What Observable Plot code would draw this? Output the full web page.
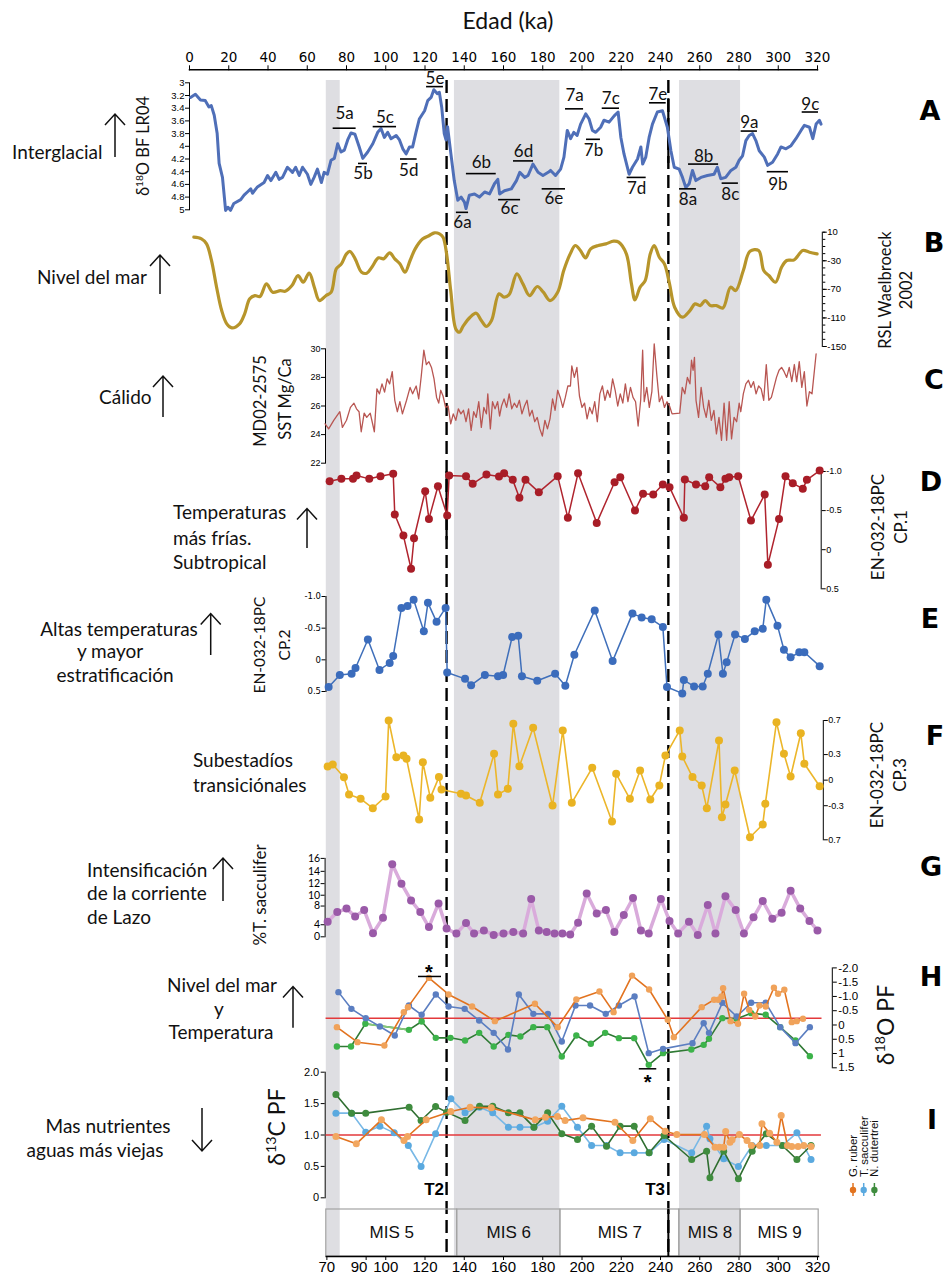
<!DOCTYPE html>
<html><head><meta charset="utf-8">
<script src="https://cdn.jsdelivr.net/npm/d3@7"></script>
<script src="https://cdn.jsdelivr.net/npm/@observablehq/plot@0.6"></script>
<style>
body{margin:0;background:#fff;}
#chart{position:relative;width:948px;height:1275px;overflow:hidden;background:#fff;}
</style></head><body><div id="chart"></div>
<script>
// ---------------- DATA ----------------
const topTicks = d3.range(0, 321, 20);
const bottomTicks = [70, 90, 100, 120, 140, 160, 180, 200, 220, 240, 260, 280, 300, 320];
const glacialBands = [[69.7, 76.8], [135, 188.7], [249.7, 280.8]];
const terminations = [{name: "T2", age: 131}, {name: "T3", age: 244}];
const misStages = [
  {name: "MIS 5", start: 69.7, end: 136.4}, {name: "MIS 6", start: 136.4, end: 189},
  {name: "MIS 7", start: 189, end: 249.6}, {name: "MIS 8", start: 249.6, end: 280.8},
  {name: "MIS 9", start: 280.8, end: 320.6}];

// A: LR04 benthic d18O [age ka, permil]
const lr04 = [[0.5,3.23],[3,3.18],[5.6,3.27],[8,3.28],[9.9,3.38],[11.1,3.36],[12.6,3.51],[14.1,3.80],[15.1,4.27],[16.8,4.49],[18.4,5.01],[19.6,4.96],[20.9,5.01],[22.6,4.90],[26.1,4.84],[27.8,4.77],[29.5,4.72],[31.2,4.67],[32.1,4.74],[34.6,4.64],[38,4.57],[39.8,4.46],[41.5,4.54],[44,4.41],[45.7,4.52],[47.4,4.49],[49.9,4.33],[52.5,4.41],[54.1,4.33],[55.9,4.46],[57.6,4.33],[60.1,4.44],[61.8,4.60],[63.5,4.49],[65.2,4.36],[67.2,4.57],[68.6,4.41],[70.3,4.44],[72.1,4.22],[73.8,4.19],[75.5,3.96],[77.2,4.09],[78.9,4.06],[80.6,3.90],[82.3,3.79],[84.3,3.81],[86.5,4.01],[88.3,4.19],[90.8,4.09],[93.4,3.96],[95.9,3.78],[97.6,3.72],[99.3,3.86],[101,3.78],[102.7,3.88],[105.3,3.83],[107,3.90],[108.7,4.04],[110.4,4.12],[112.1,4.01],[113.7,4.01],[115.4,3.78],[117.1,3.57],[119.8,3.44],[121.4,3.28],[123.1,3.23],[124.5,3.11],[126.2,3.17],[127.3,3.15],[128.5,3.38],[129.8,3.80],[130.7,3.90],[131.5,3.69],[133.2,4.12],[134.9,4.54],[136.7,4.85],[138.4,4.80],[140.1,4.88],[140.9,4.98],[142.6,4.77],[145.2,4.75],[147.7,4.80],[150.4,4.72],[152.9,4.75],[155.4,4.59],[157.1,4.52],[158,4.75],[160.5,4.70],[164,4.67],[166.6,4.54],[168.3,4.41],[170.8,4.49],[172.5,4.46],[175,4.28],[177.6,4.41],[180.1,4.46],[182.8,4.41],[184,4.38],[186.5,4.46],[189.1,4.36],[190.8,4.17],[192.5,3.75],[194.2,3.88],[195.8,3.78],[197.5,3.83],[199.3,3.65],[201.9,3.49],[203.6,3.57],[205.3,3.75],[207,3.78],[209.5,3.70],[211.2,3.59],[213.8,3.62],[216.4,3.52],[218.4,3.46],[219.8,3.86],[221.4,4.12],[224,4.44],[225.7,4.33],[228.3,4.20],[230,4.01],[230.9,4.28],[232.5,4.17],[234.2,3.86],[235.9,3.65],[238.4,3.46],[241,3.44],[243.5,3.70],[245.3,4.07],[247,4.33],[249.5,4.36],[251.2,4.49],[252.9,4.65],[254.6,4.59],[256.3,4.38],[258,4.54],[260.6,4.49],[263.9,4.46],[267.3,4.44],[269,4.33],[270.7,4.51],[273.2,4.49],[275.9,4.38],[278.4,4.33],[280.1,4.22],[281.8,4.15],[283.5,3.91],[285.2,3.83],[286.9,3.80],[288.6,3.91],[290.3,4.07],[292.9,4.17],[294.6,4.30],[297.1,4.25],[299.7,4.12],[301.4,4.01],[303.9,4.04],[306.5,3.99],[309,3.88],[311.6,3.75],[313.3,3.67],[315.9,3.70],[317.6,3.88],[319.3,3.65],[321,3.59],[321.8,3.65]];
const aTicks = d3.range(3, 5.001, 0.2);
// substage labels: name, bar start/end (ka), bar level and label level (permil)
const substages = [
  {name:"5a",from:73.2,to:84.9,bar:3.715,label:3.48},{name:"5b",from:86.1,to:90.7,bar:4.27,label:4.43},
  {name:"5c",from:93.6,to:105.5,bar:3.69,label:3.55},{name:"5d",from:107.5,to:116,bar:4.20,label:4.38},
  {name:"5e",from:120.8,to:129.4,bar:3.06,label:2.93},{name:"6a",from:136,to:142.2,bar:5.04,label:5.2},
  {name:"6b",from:141.1,to:156.3,bar:4.43,label:4.26},{name:"6c",from:157.5,to:168.7,bar:4.84,label:4.98},
  {name:"6d",from:165.1,to:175.3,bar:4.23,label:4.09},{name:"6e",from:179.7,to:191.6,bar:4.67,label:4.83},
  {name:"7a",from:191.6,to:200.8,bar:3.41,label:3.2},{name:"7b",from:202.3,to:209.4,bar:3.89,label:4.07},
  {name:"7c",from:210.3,to:219.1,bar:3.40,label:3.25},{name:"7d",from:223,to:232.7,bar:4.49,label:4.67},
  {name:"7e",from:234.4,to:242.9,bar:3.315,label:3.19},{name:"8a",from:249.7,to:258.3,bar:4.67,label:4.84},
  {name:"8b",from:254.3,to:269.6,bar:4.28,label:4.16},{name:"8c",from:271.4,to:279.7,bar:4.58,label:4.76},
  {name:"9a",from:281.1,to:289.4,bar:3.76,label:3.62},{name:"9b",from:294.4,to:305.2,bar:4.40,label:4.60},
  {name:"9c",from:312.2,to:320.5,bar:3.46,label:3.35}];

// B: relative sea level (m)
const rsl = [[2.2,3],[6.1,0.7],[8.7,-6.3],[11.2,-29.6],[13.8,-67],[16.4,-99.7],[19,-118.3],[21.6,-124],[25.5,-118.3],[28.1,-104.3],[30.7,-83.3],[33.3,-78.7],[35.9,-80],[39.2,-62.3],[42.4,-74],[46.3,-71.7],[48.8,-72.6],[52.2,-64.7],[55.3,-50.6],[57.9,-60],[61,-47.4],[63.6,-67],[66.2,-85.7],[69.6,-78.7],[72.2,-74],[74.8,-41.3],[77.4,-34.3],[80,-20.3],[81.8,-17],[84.4,-27.3],[87.7,-46],[90.3,-47.4],[92.9,-39],[96.3,-25.9],[98.9,-27.3],[102,-18.9],[104.6,-27.3],[107.2,-34.3],[109.8,-46],[112.4,-29.6],[115,-13.3],[118.9,0.7],[122.2,5.4],[124.8,9.1],[127.4,7.7],[129.2,3],[131,-20.3],[133.1,-71.7],[135.7,-125.4],[137.5,-130],[139.6,-120.7],[143,-109],[146.1,-103.4],[148.7,-113.7],[151.3,-122],[153.9,-113.7],[157.7,-76.3],[160.3,-81],[162.9,-77.3],[166.8,-48.3],[169.9,-62.3],[173.3,-78.7],[177.2,-66],[180.3,-74],[183.7,-85.7],[187.6,-74],[190.7,-43.6],[194,-20.3],[196.6,-8.6],[199.2,-15.6],[201.8,-25.9],[204.4,-13.3],[208.3,-8.6],[212.2,-6.3],[216.1,-2.6],[218.7,-4],[222.6,-20.3],[225.2,-62.3],[227,-84.7],[229.6,-67],[232.2,-57.7],[234.8,-20.3],[236.8,-8.6],[239.4,-25],[242,-34.3],[244.6,-62.3],[247.2,-95],[251.1,-109],[255,-99.7],[257.6,-90.3],[260.2,-92.7],[262.8,-85.7],[265.4,-92.7],[268.5,-92.7],[271.8,-96],[275.7,-67],[278.3,-71.7],[282.2,-43.6],[285.6,-16.6],[290,-15.6],[292.6,-43.6],[295.2,-50.6],[298.6,-60],[301.7,-39],[304.3,-29.6],[308.1,-28.7],[312.5,-15.6],[315.9,-18],[319.8,-20.3]];
const rslTicks = d3.range(-150, 11, 10);
const rslLabels = [10, -30, -70, -110, -150];

// C: MD02-2575 Mg/Ca SST (C)
const sst = [[69.1,24.75],[70.9,24.4],[73.5,25.0],[76.6,25.6],[77.9,24.5],[80,25.0],[82,25.9],[83.8,26.2],[85.1,25.8],[86.4,25.6],[87.5,24.2],[89,25.5],[90.3,25.2],[92.1,25.5],[94.2,24.2],[95.5,27.2],[96.8,26.85],[98.1,27.55],[99.4,26.97],[100.7,27.9],[102,27.55],[103.3,28.4],[104.6,26.4],[105.9,25.6],[107.2,26.3],[108.5,25.45],[110.6,26.4],[112.4,27.3],[113.7,26.85],[115.5,27.4],[116.8,26.5],[118.1,28.1],[119.4,29.9],[120.7,28.9],[122,29.1],[123.3,28.7],[124.6,27.9],[125.9,26.6],[127,26.2],[128,27.1],[129.2,26.7],[130.5,25.9],[131.8,26.0],[133.1,24.75],[134.4,25.45],[135.7,25.0],[137,25.8],[138.3,25.45],[139.6,25.7],[140.9,24.9],[142.2,25.8],[143.5,24.3],[144.8,25.6],[146.1,25.2],[147.4,26.3],[148.7,24.5],[150,25.9],[151.3,25.45],[152,26.85],[153.3,24.4],[154.4,26.3],[155.7,25.8],[157,26.3],[158,25.3],[159,26.0],[160.3,26.5],[161.6,25.9],[162.9,26.85],[164.2,25.8],[165.5,26.2],[166.8,25.9],[168.1,26.4],[169.4,25.45],[170.7,26.0],[172,26.4],[173.3,25.3],[174.6,25.7],[175.9,24.9],[177.2,25.2],[178.5,24.4],[179.8,23.9],[181.1,25.0],[182.4,24.4],[183.7,25.1],[185,26.5],[186.3,25.7],[187.6,27.1],[188.9,26.6],[190.2,25.9],[191.5,26.6],[192.8,27.4],[194.1,27.4],[194.8,28.8],[196.1,28.0],[197.4,28.7],[198.7,26.7],[200,25.9],[201.3,26.2],[202.6,25.1],[203.9,25.9],[205.2,25.45],[206.5,26.3],[207.8,24.9],[209.1,26.85],[210.4,27.4],[211.7,26.4],[213,27.1],[214.3,26.6],[215.6,27.9],[216.9,27.1],[218.2,26.0],[219.5,26.85],[220.8,26.2],[222.1,27.55],[223.4,26.3],[224.7,27.3],[226,26.6],[227.3,26.3],[228.6,24.6],[229.9,26.4],[230.9,29.9],[231.7,26.3],[233,27.3],[234.3,25.9],[235.6,27.0],[236.8,30.35],[238.1,28.2],[239.4,26.3],[240.7,26.7],[242,25.9],[243.3,26.3],[244.6,26.0],[245.9,25.45],[249.8,25.5],[251.1,27.3],[252.4,26.85],[253.7,28.0],[255,27.55],[255.8,29.2],[256.6,28.5],[257.3,29.4],[258.1,26.4],[259.4,25.2],[260.7,27.3],[262,25.9],[263.3,25.2],[264.6,26.4],[265.9,25.0],[267.2,25.7],[268.5,24.05],[269.8,25.2],[271.1,23.6],[272.4,26.2],[273.7,23.6],[275,26.3],[276.2,23.7],[277.5,25.2],[278.8,24.9],[280.1,26.2],[280.9,25.6],[282.2,26.85],[283.5,27.55],[284.8,27.8],[286.1,27.3],[287.4,27.7],[288.7,26.85],[290,27.4],[291.3,27.2],[292.6,26.4],[293.9,28.9],[295.2,26.4],[296.5,26.6],[297.8,27.3],[299.1,28.0],[300.4,28.5],[301.7,28.7],[303,28.4],[304.3,28.0],[305.6,28.7],[306.9,27.7],[308.2,28.9],[309.4,27.7],[310.7,29.1],[312,27.3],[313.3,28.4],[314.6,26.0],[315.9,27.0],[317.2,26.85],[319.3,29.65]];
const sstTicks = [22, 24, 26, 28, 30];

// D, E, F: EN-032-18PC principal components
const cp1 = [[71.4,-0.876],[77.4,-0.906],[83.3,-0.906],[85.1,-0.949],[91.6,-0.906],[97.3,-0.94],[103.8,-0.97],[104.6,-0.45],[109,-0.18],[112.9,0.244],[114.4,-0.147],[120.1,-0.748],[122,-0.394],[126.6,-0.812],[131.3,-0.437],[132.3,-0.949],[140.9,-0.94],[144.3,-0.842],[151.3,-0.961],[157.7,-0.936],[160.3,-0.979],[164.7,-0.893],[168.1,-0.663],[171.2,-0.893],[178,-0.736],[187.6,-0.94],[192.8,-0.407],[198,-0.979],[207.5,-0.343],[216.6,-0.863],[219.5,-0.927],[227,-0.501],[231.1,-0.714],[236.3,-0.706],[241.2,-0.834],[244.6,-0.8],[251.9,-0.407],[252.4,-0.898],[258.1,-0.834],[262.8,-0.812],[264.8,-0.927],[270.5,-0.8],[273.1,-0.906],[275,-0.927],[279.6,-0.94],[286.1,-0.373],[293.1,-0.706],[294.7,0.193],[300.4,-0.394],[303.7,-0.94],[307.4,-0.851],[312.5,-0.778],[314.6,-0.893],[321.1,-1.012]];
const cp2 = [[70.9,0.43],[76.6,0.24],[82.6,0.22],[84.6,0.13],[90.9,-0.32],[96.8,0.16],[102,0.05],[103.8,-0.06],[108,-0.82],[111.1,-0.85],[114.2,-0.95],[119.4,-0.45],[121.5,-0.9],[125.9,-0.6],[130.5,-0.82],[131.3,0.2],[140.4,0.3],[143.5,0.4],[150.5,0.24],[157.2,0.26],[159.8,0.24],[164.4,-0.36],[167.5,-0.38],[169.4,0.26],[177.2,0.33],[186.3,0.22],[191.5,0.41],[196.1,-0.08],[206.5,-0.78],[215.6,0.02],[225.7,-0.73],[230.4,-0.67],[235.5,-0.64],[241.2,-0.52],[243.3,0.43],[251.1,0.53],[251.9,0.32],[257.1,0.42],[261.5,0.42],[264.1,0.22],[269.5,-0.4],[271.8,0.22],[273.7,0.04],[278,-0.4],[283,-0.33],[288,-0.45],[292.1,-0.49],[293.9,-0.95],[299.6,-0.54],[302.9,-0.16],[306.3,-0.04],[310.7,-0.12],[313.3,-0.12],[321.1,0.1]];
const cp3 = [[70.4,0.16],[73,0.184],[78.7,0.035],[81.3,-0.169],[87.2,-0.219],[93.4,-0.329],[99.9,-0.192],[101.5,0.7],[105.4,0.27],[109,0.289],[110.6,0.25],[117,-0.462],[118.9,0.21],[122.7,-0.208],[127.1,0.036],[128.4,-0.11],[138.3,-0.16],[140.9,-0.18],[147.9,-0.266],[155.2,0.309],[157.2,-0.169],[162.2,-0.102],[165,0.661],[168.1,0.164],[175.1,0.614],[185,-0.298],[190.2,0.583],[194.8,-0.266],[205.2,0.145],[215.3,-0.485],[217.4,0.074],[224.4,-0.219],[229.6,0.113],[234.8,-0.227],[239.4,-0.063],[242.5,0.289],[249.8,0.583],[251.1,0.277],[256.3,0.036],[261,-0.063],[263.6,-0.329],[269.8,0.465],[271.3,-0.435],[273.1,-0.286],[277.8,0.113],[285.6,-0.67],[292.1,-0.521],[293.4,-0.278],[299.1,0.68],[302.9,0.309],[306.3,0.043],[311.5,0.55],[313.3,0.192],[321.1,-0.071]];
const cpTicks = [-1, -0.5, 0, 0.5];
const cp3Ticks = [0.7, 0.3, 0, -0.3, -0.7];

// G: % T. sacculifer
const sacc = [[70.4,4.7],[75.3,6.8],[80,7.5],[84.4,5.9],[89,7.2],[93.5,1.6],[98.6,5.6],[103.3,15.1],[108,12],[112.9,9.05],[117.6,6.8],[122,3.4],[126.9,8.5],[131,3],[136,1.5],[140.9,4.4],[145,1.5],[150,2.5],[155,1],[160,1.5],[165,2],[170,1.5],[174.1,9.3],[178,2.5],[182,2],[186,1.5],[190,1.5],[194,1.2],[198,4.5],[202.4,10.3],[207.5,6.5],[212.2,7.2],[216.5,2],[221.3,6.2],[226,9.5],[230,2.5],[234,1.5],[240.2,9.3],[244.6,4.9],[249,1.5],[254.5,4.7],[259,1],[264.1,8.2],[268,1.5],[273.1,9.8],[278.3,7.2],[282.5,1.5],[287.4,5.7],[292.1,8.95],[297,5.4],[301.7,6.65],[306.3,10.8],[311.2,7.5],[315.9,4.9],[320,2.5]];
const saccTicks = [0, 4, 8, 10, 12, 14, 16];

// H: planktonic d18O (permil)
const d18O_sacculifer = [[75.9,-1.151],[82.5,-0.566],[89.8,-0.24],[97,0.053],[104.6,0.368],[111.8,-0.683],[118.3,-0.356],[125.5,-1.069],[132,-0.648],[140.2,-0.566],[147.6,-0.158],[155,0.275],[162.3,0.859],[167.8,-1.069],[175.2,-0.391],[182.6,-0.391],[189.7,0.578],[196.7,-0.683],[204.1,-0.683],[212.1,-0.391],[218.8,-0.683],[226.8,-0.999],[234,0.987],[241.3,0.836],[256.3,0.637],[262,-0.064],[264.7,0.275],[271.5,-0.777],[278.8,-0.298],[286.2,-0.777],[293.6,-0.777],[301,0.076],[308.8,0.637],[316.1,0.076]];
const d18O_ruber = [[75.1,0.076],[85.6,0.602],[99.3,0.719],[109.2,-0.45],[111.3,-0.625],[122,-1.65],[132,-1.069],[144,-0.648],[155.6,-0.134],[176,-0.742],[187.6,0.076],[197.1,-0.894],[208.9,-1.174],[216.1,-0.45],[225.5,-1.73],[234.2,-1.244],[243.7,-0.181],[246.8,0.427],[261,-0.625],[267.3,-0.882],[269.4,-0.882],[271.1,-0.999],[271.9,-1.29],[275.7,-0.134],[279.5,-0.041],[282.6,-1.092],[285.2,-0.531],[288.3,-0.298],[290.4,-0.683],[293.6,-0.648],[297.8,-1.303],[299.9,-1.092],[303.1,-1.232],[306.9,-0.1],[309.4,-0.134],[312.6,-0.216]];
const d18O_dutertrei = [[75.1,0.754],[82.3,0.754],[89.6,-0.041],[111.8,0.17],[118.3,-0.122],[125.5,0.45],[133,0.45],[140.4,0.544],[147.6,0.275],[155,0.754],[162.5,0.345],[168.6,0.403],[175.2,0.076],[182.3,0.076],[189.7,1.104],[197.1,0.368],[204.5,0.66],[211.8,0.275],[218.8,0.462],[226.6,0.462],[234,1.396],[241.3,0.987],[255.7,0.859],[262,0.696],[264.7,0.485],[271.5,-0.24],[278.8,-0.216],[286.2,-0.415],[293.6,-0.356],[301,0.076],[308.8,0.544],[316.1,1.092]];
const d18OTicks = [-2, -1.5, -1, -0.5, 0, 0.5, 1, 1.5];
const d18OLabels = ["-2.0", "-1.5", "-1.0", "-0.5", "0", "0.5", "1", "1.5"];
const d18ORef = [{v: -0.24, from: 69.6, to: 322.3}];
const stars = [{age: 122, v: -2.02, from: 116.7, to: 128.4, bar: -1.7}, {age: 233.4, v: 1.83, from: 229.2, to: 238.1, bar: 1.535}];

// I: planktonic d13C (permil)
const d13C_dutertrei = [[74.6,1.645],[82.6,1.348],[89.8,1.348],[111.9,1.443],[118,1.231],[125.4,1.454],[131,1.364],[140.4,1.231],[147.8,1.459],[154.5,1.459],[162.5,1.353],[168.4,1.353],[175.5,1.125],[182.5,1.353],[189.7,1.019],[197.7,0.928],[204.9,1.141],[212.5,0.822],[219.4,1.141],[226.6,1.141],[234.2,0.716],[241.8,0.992],[255.9,0.61],[263.5,0.743],[265.2,0.318],[272.2,0.743],[279.7,0.302],[286.7,0.743],[293.9,1.019],[302.1,0.833],[309.5,0.61],[316.7,0.833]];
const d13C_sacculifer = [[74.6,1.348],[82.6,1.348],[89.8,1.045],[97,1.141],[104.3,1.034],[111.5,0.833],[118,0.498],[125.4,1.019],[133.2,1.576],[140.4,1.353],[147.8,1.443],[154.5,1.353],[162.5,1.125],[168.4,1.125],[175.5,1.125],[182.5,1.22],[189.7,1.459],[197.7,1.125],[204.9,0.833],[212.5,0.833],[219.4,0.716],[226.6,0.716],[234.2,0.716],[241.8,0.928],[255.9,0.716],[263.5,1.141],[265.2,0.939],[272.2,0.62],[279.7,0.498],[286.7,0.833],[293.9,0.833],[302.1,0.833],[309.5,1.034],[316.7,0.61]];
const d13C_ruber = [[74.6,0.976],[85,0.859],[97.8,1.241],[109.3,0.912],[111.1,0.976],[120.6,1.241],[133.2,1.374],[143,1.443],[153.8,1.432],[176.2,1.241],[181.4,1.284],[187.5,1.294],[191.4,1.231],[200.5,1.273],[216.8,1.204],[225.9,0.912],[234.8,1.257],[242.4,1.061],[248.3,1.008],[262.4,1.008],[267.8,0.806],[270,0.806],[272.2,0.806],[273.2,1.056],[275.4,0.886],[276.5,0.923],[280.2,1.008],[284.1,0.912],[286.3,0.833],[290.6,0.833],[291.7,1.178],[295.6,1.029],[299.3,0.886],[301.5,1.31],[304.7,0.833],[306.9,0.817],[310.1,0.817],[313,0.833],[316.7,0.817]];
const d13CTicks = [0, 0.5, 1, 1.5, 2];
const d13CRef = [{v: 1.0, from: 69.6, to: 322}];
const species = ["G. ruber", "T. sacculifer", "N. dutertrei"];

// ---------------- DRAWING ----------------
const W = 948, H = 1275, X0 = 189, X1 = 817;
const LATO = "Lato, 'Noto Sans', 'DejaVu Sans', sans-serif";
const ARIAL = "'Liberation Sans', Arial, sans-serif";
const chart = document.getElementById("chart");
const fmt1 = d => d === 0 ? "0" : d.toFixed(1);
const X = d => d[0], Y = d => d[1];

function layer(o) {
  const {x = {}, style = {}, ...rest} = o;
  const svg = Plot.plot({
    width: W, height: H, marginLeft: 0, marginRight: 0, marginTop: 0, marginBottom: 0,
    ...rest,
    x: {domain: [0, 320], range: [X0, X1], ...x},
    style: {background: "none", overflow: "visible", fontFamily: ARIAL, fontSize: "9.5px", color: "#000", ...style}
  });
  svg.style.position = "absolute"; svg.style.left = "0px"; svg.style.top = "0px";
  chart.appendChild(svg);
  return svg;
}

// background: glacial bands + terminations
layer({
  marginTop: 80, marginBottom: H - 1256, x: {axis: null},
  marks: [
    Plot.rect(glacialBands, {x1: X, x2: Y, fill: "#dedee2"}),
    Plot.ruleX(terminations, {x: "age", stroke: "#000", strokeWidth: 2.4, strokeDasharray: "13,6"})
  ]
});

// top axis
layer({
  marginTop: 69.3, marginBottom: H - 80, marginLeft: X0, marginRight: W - X1,
  style: {fontFamily: "'DejaVu Sans', Verdana, sans-serif", fontSize: "13.5px"},
  marks: [
    Plot.frame({anchor: "top", strokeWidth: 1.5}),
    Plot.axisX({anchor: "top", ticks: topTicks, tickSize: 5, tickPadding: 3, tickFormat: d => String(d), label: null})
  ]
});

// A
layer({
  marginLeft: 189, marginTop: 82.3, marginBottom: H - 209.3, x: {axis: null},
  y: {domain: [5, 3]},
  style: {fontSize: "9.5px"},
  marks: [
    Plot.frame({anchor: "left"}),
    Plot.axisY({anchor: "left", ticks: aTicks, tickFormat: d => String(+d.toFixed(1)), tickSize: 4, tickPadding: 1, label: null}),
    Plot.ruleX([244], {y1: 3.25, y2: 4.27, stroke: "#000", strokeWidth: 2.2}),
    Plot.line(lr04, {x: X, y: Y, stroke: "#4f6fb8", strokeWidth: 3, strokeLinejoin: "round"}),
    Plot.ruleY(substages, {y: "bar", x1: "from", x2: "to", stroke: "#000", strokeWidth: 1.6}),
    Plot.text(substages, {x: d => (d.from + d.to) / 2, y: "label", text: "name", fontSize: 17, fontFamily: LATO, fill: "#111"})
  ]
});

// B
layer({
  marginRight: W - 821.8, marginTop: 231.7, marginBottom: H - 346, x: {axis: null},
  y: {domain: [-150, 10]},
  style: {fontSize: "9.5px"},
  marks: [
    Plot.frame({anchor: "right"}),
    Plot.axisY({anchor: "right", ticks: rslTicks, tickSize: 2.5, tickFormat: () => "", label: null}),
    Plot.axisY({anchor: "right", ticks: rslLabels, tickSize: 4, tickPadding: 1, tickFormat: d => String(d), label: null}),
    Plot.line(rsl, {x: X, y: Y, stroke: "#b7952b", strokeWidth: 3.2, curve: "catmull-rom"})
  ]
});

// C
layer({
  marginLeft: 325, marginTop: 348.3, marginBottom: H - 462.7, x: {axis: null},
  y: {domain: [22, 30]},
  style: {fontSize: "9px"},
  marks: [
    Plot.frame({anchor: "left"}),
    Plot.axisY({anchor: "left", ticks: sstTicks, tickSize: 4, tickPadding: 1, label: null}),
    Plot.line(sst, {x: X, y: Y, stroke: "#b85652", strokeWidth: 1.3})
  ]
});

// D
layer({
  marginRight: W - 820.7, marginTop: 471, marginBottom: H - 588.3, x: {axis: null},
  y: {domain: [0.5, -1]},
  style: {fontSize: "9px"},
  marks: [
    Plot.frame({anchor: "right"}),
    Plot.axisY({anchor: "right", ticks: cpTicks, tickSize: 4, tickPadding: 1, tickFormat: fmt1, label: null}),
    Plot.ruleX([131], {y1: -1.0, y2: -0.12, stroke: "#000", strokeWidth: 2.2}),
    Plot.line(cp1, {x: X, y: Y, stroke: "#b0242e", strokeWidth: 1.5}),
    Plot.dot(cp1, {x: X, y: Y, r: 4, fill: "#a81d27"})
  ]
});

// E
layer({
  marginLeft: 325.5, marginTop: 596, marginBottom: H - 691, x: {axis: null},
  y: {domain: [0.5, -1]},
  style: {fontFamily: "'DejaVu Sans', sans-serif", fontSize: "8.5px"},
  marks: [
    Plot.frame({anchor: "left"}),
    Plot.axisY({anchor: "left", ticks: cpTicks, tickSize: 4, tickPadding: 1, tickFormat: fmt1, label: null}),
    Plot.line(cp2, {x: X, y: Y, stroke: "#3f6fba", strokeWidth: 1.5}),
    Plot.dot(cp2, {x: X, y: Y, r: 4, fill: "#3b6cbc"})
  ]
});

// F
layer({
  marginRight: W - 822.8, marginTop: 720, marginBottom: H - 839.3, x: {axis: null},
  y: {domain: [-0.7, 0.7]},
  style: {fontSize: "9px"},
  marks: [
    Plot.frame({anchor: "right"}),
    Plot.axisY({anchor: "right", ticks: cp3Ticks, tickSize: 4, tickPadding: 1, tickFormat: d => d === -0.7 ? "0.7" : fmt1(d), label: null}),
    Plot.line(cp3, {x: X, y: Y, stroke: "#ecb62a", strokeWidth: 1.6}),
    Plot.dot(cp3, {x: X, y: Y, r: 4, fill: "#e9b322"})
  ]
});

// G (axis of the original is compressed toward low values: power scale)
layer({
  marginLeft: 324.6, marginTop: 857.9, marginBottom: H - 936.3, x: {axis: null},
  y: {type: "pow", exponent: 1.35, domain: [0, 16]},
  style: {fontFamily: LATO, fontSize: "10.5px"},
  marks: [
    Plot.frame({anchor: "left"}),
    Plot.axisY({anchor: "left", ticks: saccTicks, tickSize: 4, tickPadding: 1, tickFormat: d => String(d), label: null}),
    Plot.line(sacc, {x: X, y: Y, stroke: "#d9abdb", strokeWidth: 3.5}),
    Plot.dot(sacc, {x: X, y: Y, r: 4, fill: "#9a5aa8"})
  ]
});

// H
layer({
  marginRight: W - 831.8, marginTop: 967.4, marginBottom: H - 1067.3, x: {axis: null},
  y: {domain: [1.5, -2]},
  style: {fontSize: "11.5px"},
  marks: [
    Plot.frame({anchor: "right"}),
    Plot.axisY({anchor: "right", ticks: d18OTicks, tickSize: 4, tickPadding: 2, tickFormat: d => d18OLabels[d18OTicks.indexOf(d)], label: null}),
    Plot.ruleY(d18ORef, {y: "v", x1: "from", x2: "to", stroke: "#e3393b", strokeWidth: 1.5}),
    Plot.line(d18O_dutertrei, {x: X, y: Y, stroke: "#2f7a34", strokeWidth: 1.6}),
    Plot.line(d18O_dutertrei.filter(d => d[0] >= 89 && d[0] <= 112), {x: X, y: Y, stroke: "#86c97a", strokeWidth: 1.8}),
    Plot.dot(d18O_dutertrei, {x: X, y: Y, r: 3.2, fill: "#3cb34a"}),
    Plot.line(d18O_sacculifer, {x: X, y: Y, stroke: "#5b7ec1", strokeWidth: 1.6}),
    Plot.dot(d18O_sacculifer, {x: X, y: Y, r: 3.2, fill: "#5b7ec1"}),
    Plot.line(d18O_ruber, {x: X, y: Y, stroke: "#e2731f", strokeWidth: 1.6}),
    Plot.dot(d18O_ruber, {x: X, y: Y, r: 3.2, fill: "#f0a25a"}),
    Plot.ruleY(stars, {y: "bar", x1: "from", x2: "to", stroke: "#000", strokeWidth: 1.5}),
    Plot.text(stars, {x: "age", y: "v", text: () => "*", fontSize: 20, fontWeight: "bold", dy: 5, fill: "#000"})
  ]
});

// I
layer({
  marginLeft: 324.7, marginTop: 1071.7, marginBottom: H - 1197.3, x: {axis: null},
  y: {domain: [0, 2]},
  style: {fontSize: "11px"},
  marks: [
    Plot.frame({anchor: "left"}),
    Plot.axisY({anchor: "left", ticks: d13CTicks, tickSize: 4, tickPadding: 2, tickFormat: fmt1, label: null}),
    Plot.ruleY(d13CRef, {y: "v", x1: "from", x2: "to", stroke: "#e3393b", strokeWidth: 1.5}),
    Plot.line(d13C_sacculifer, {x: X, y: Y, stroke: "#78b8e6", strokeWidth: 1.6}),
    Plot.dot(d13C_sacculifer, {x: X, y: Y, r: 3.5, fill: "#5aa9df"}),
    Plot.line(d13C_dutertrei, {x: X, y: Y, stroke: "#2f6e30", strokeWidth: 1.6}),
    Plot.dot(d13C_dutertrei, {x: X, y: Y, r: 3.5, fill: "#3f8c3e"}),
    Plot.line(d13C_ruber, {x: X, y: Y, stroke: "#e2731f", strokeWidth: 1.6}),
    Plot.dot(d13C_ruber, {x: X, y: Y, r: 3.5, fill: "#f2a760"})
  ]
});

// MIS boxes + bottom axis
layer({
  marginTop: 1209, marginBottom: H - 1256, marginLeft: 325.8, marginRight: W - 818,
  style: {fontSize: "15px"},
  marks: [
    Plot.rect(misStages, {x1: "start", x2: "end", stroke: "#a3a3a3", fill: "none", strokeWidth: 1.2}),
    Plot.ruleX([244], {stroke: "#000", strokeWidth: 2}),
    Plot.text(misStages, {x: d => (d.start + d.end) / 2, text: "name", frameAnchor: "middle", fontSize: 17, fill: "#111"}),
    Plot.frame({anchor: "bottom", strokeWidth: 1.5}),
    Plot.axisX({anchor: "bottom", ticks: bottomTicks, tickSize: 4, tickPadding: 1, tickFormat: d => d === 90 ? "" : String(d), label: null}),
    Plot.text([90], {x: d => d, text: d => String(d), frameAnchor: "bottom", lineAnchor: "top", dy: 5, dx: -7, fontSize: 15, fill: "#000"})
  ]
});

// ---------------- ANNOTATIONS ----------------
const ann = d3.select(chart).append("svg").attr("width", W).attr("height", H)
  .style("position", "absolute").style("left", "0px").style("top", "0px");

function text(x, y, s, {size = 19, anchor = "start", weight = 400, family = LATO, rotate = 0, fill = "#111"} = {}) {
  const t = ann.append("text")
    .attr("transform", `translate(${x},${y}) rotate(${rotate})`)
    .attr("text-anchor", anchor).attr("dy", "0.35em")
    .attr("font-family", family).attr("font-size", size).attr("font-weight", weight).attr("fill", fill);
  if (Array.isArray(s)) {
    let prevSup = false;
    s.forEach(([str, sup]) => {
      const span = t.append("tspan").text(str);
      if (sup) { span.attr("font-size", size * 0.62).attr("dy", -size * 0.38); prevSup = true; }
      else if (prevSup) { span.attr("dy", size * 0.38); prevSup = false; }
    });
  } else t.text(s);
  return t;
}

text(508, 21, "Edad (ka)", {size: 23, anchor: "middle"});

// left descriptions
const notes = [
  [12, 152, "Interglacial", "start"], [37, 277, "Nivel del mar", "start"], [99, 397.5, "Cálido", "start"],
  [173, 512.5, "Temperaturas", "start"], [173, 538, "más frías.", "start"], [173, 562, "Subtropical", "start"],
  [119, 629.6, "Altas temperaturas", "middle"], [110, 651, "y mayor", "middle"], [115, 675, "estratificación", "middle"],
  [193, 760, "Subestadíos", "start"], [193, 785, "transiciónales", "start"],
  [87, 870, "Intensificación", "start"], [87, 893, "de la corriente", "start"], [87, 917.6, "de Lazo", "start"],
  [222, 985, "Nivel del mar", "middle"], [219, 1009, "y", "middle"], [221, 1032.5, "Temperatura", "middle"],
  [108, 1126, "Mas nutrientes", "middle"], [95, 1150, "aguas más viejas", "middle"]];
notes.forEach(([x, y, s, a]) => text(x, y, s, {anchor: a, size: 19}));

const arrows = [[115, 114, 157, "up"], [160, 255, 294, "up"], [163, 376, 417, "up"], [307, 508.6, 548, "up"],
  [210.7, 613.6, 655, "up"], [223, 858, 901, "up"], [293, 986.6, 1027.7, "up"], [202, 1108, 1151, "down"]];
arrows.forEach(([x, y0, y1, dir]) => {
  const tip = dir === "up" ? y0 : y1, s = dir === "up" ? 1 : -1;
  ann.append("path").attr("d", `M${x},${y0}L${x},${y1}M${x - 10},${tip + s * 11}L${x},${tip}L${x + 10},${tip + s * 11}`)
    .attr("fill", "none").attr("stroke", "#111").attr("stroke-width", 1.5);
});

// rotated axis titles
text(143, 146, [["δ"], ["18", true], ["O BF LR04"]], {size: 16.5, anchor: "middle", rotate: -90});
text(885, 290, "RSL Waelbroeck", {size: 16.5, anchor: "middle", rotate: -90});
text(906, 290, "2002", {size: 16.5, anchor: "middle", rotate: -90});
text(260, 401, "MD02-2575", {size: 16.5, anchor: "middle", rotate: -90});
text(285, 399, "SST Mg/Ca", {size: 16.5, anchor: "middle", rotate: -90});
text(878, 527, "EN-032-18PC", {size: 17, anchor: "middle", rotate: -90});
text(901, 527, "CP.1", {size: 17, anchor: "middle", rotate: -90});
text(260, 645, "EN-032-18PC", {size: 15.5, anchor: "middle", rotate: -90});
text(285, 645, "CP.2", {size: 15.5, anchor: "middle", rotate: -90});
text(877, 775, "EN-032-18PC", {size: 17, anchor: "middle", rotate: -90});
text(900, 775, "CP.3", {size: 17, anchor: "middle", rotate: -90});
text(260, 895, "%T. sacculifer", {size: 17, anchor: "middle", rotate: -90});
text(886, 1025, [["δ"], ["18", true], ["O PF"]], {size: 23, anchor: "middle", rotate: -90});
text(277, 1127, [["δ"], ["13", true], ["C PF"]], {size: 23, anchor: "middle", rotate: -90});

// panel letters
[["A", 930, 111], ["B", 934, 243], ["C", 934, 380], ["D", 931, 482], ["E", 930, 619], ["F", 935, 736],
 ["G", 931, 867], ["H", 931, 977], ["I", 932, 1120]].forEach(([s, x, y]) =>
  text(x, y, s, {size: 27, anchor: "middle", weight: 900, family: "'DejaVu Sans', sans-serif", fill: "#000"}));

// terminations labels
text(444, 1189, "T2", {size: 17, anchor: "end", weight: 700, family: ARIAL, fill: "#000"});
text(665, 1189, "T3", {size: 17, anchor: "end", weight: 700, family: ARIAL, fill: "#000"});

// legend (rotated)
const legendColors = ["#e2731f", "#5aa9df", "#3f8c3e"];
species.forEach((s, i) => {
  const x = 853 + i * 10.7;
  text(x, 1177, s, {size: 11.5, anchor: "start", rotate: -90, family: ARIAL});
  ann.append("line").attr("x1", x).attr("x2", x).attr("y1", 1183).attr("y2", 1196).attr("stroke", legendColors[i]).attr("stroke-width", 1.5);
  ann.append("circle").attr("cx", x).attr("cy", 1190).attr("r", 3.2).attr("fill", legendColors[i]);
});
</script></body></html>
